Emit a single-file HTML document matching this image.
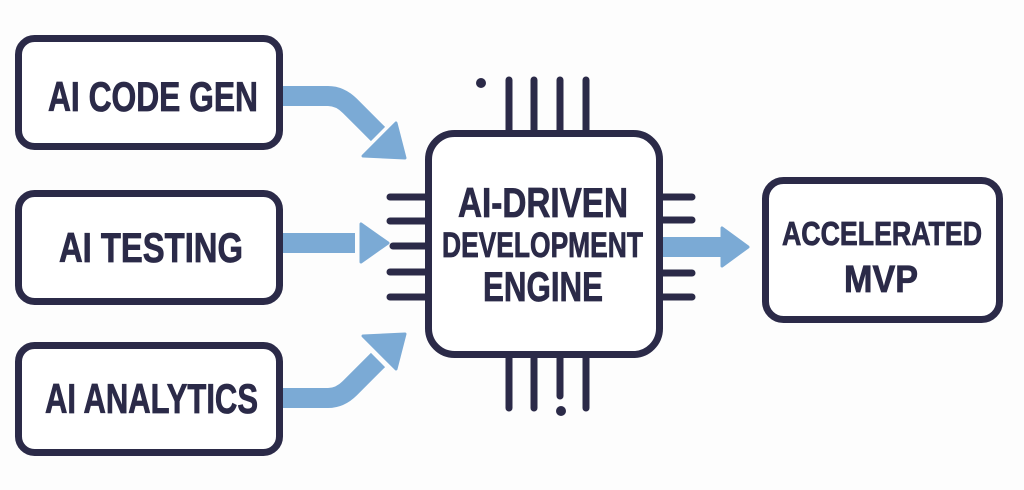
<!DOCTYPE html>
<html><head><meta charset="utf-8"><style>
html,body{margin:0;padding:0;background:#fdfdfd;}
svg{display:block}
text{font-family:"Liberation Sans",sans-serif;font-weight:bold;fill:#2b2a48;stroke:#2b2a48;stroke-width:0.8;}
</style></head><body>
<svg width="1024" height="490" viewBox="0 0 1024 490" xmlns="http://www.w3.org/2000/svg">
<g fill="none" stroke="#7baad5" stroke-width="20" stroke-linejoin="round">
  <path d="M283 96 H328 Q340 96 350 106 L378 134"/>
  <path d="M283 243 H355"/>
  <path d="M283 398 H328 Q340 398 350 388 L378 360"/>
  <path d="M663 247 H725"/>
</g>
<g fill="#7baad5" stroke="#7baad5" stroke-width="3" stroke-linejoin="round">
  <polygon points="405,158 363,156 396,123"/>
  <polygon points="388,243 361,224 361,262"/>
  <polygon points="405,334 363,336 396,369"/>
  <polygon points="748,247 722,228 722,266"/>
</g>
<g stroke="#2b2a48" stroke-width="7" stroke-linecap="round" fill="none">
  <path d="M509 80V130M534 80V130M560 80V130M586 80V130"/>
  <path d="M509 357V408M534 357V408M560 357V396M586 357V408"/>
  <path d="M390 197H425M390 221H425M393 246H425M390 272H425M390 297H425"/>
  <path d="M663 197H692M663 220H692M663 273H692M663 297H692"/>
</g>
<circle cx="481" cy="83" r="5" fill="#2b2a48"/>
<circle cx="561" cy="411" r="5" fill="#2b2a48"/>
<g fill="#fff" stroke="#2b2a48" stroke-width="7">
  <rect x="18.5" y="38.5" width="261" height="108" rx="16"/>
  <rect x="18.5" y="193.5" width="261" height="108" rx="16"/>
  <rect x="18.5" y="345.5" width="261" height="107" rx="16"/>
  <rect x="428.5" y="133.5" width="231" height="221" rx="26"/>
  <rect x="765.5" y="180.5" width="234" height="139" rx="18"/>
</g>
<text x="48" y="111" font-size="42" textLength="210" lengthAdjust="spacingAndGlyphs">AI CODE GEN</text>
<text x="59" y="262" font-size="42" textLength="184" lengthAdjust="spacingAndGlyphs">AI TESTING</text>
<text x="45" y="413" font-size="42" textLength="213" lengthAdjust="spacingAndGlyphs">AI ANALYTICS</text>
<text x="458" y="217" font-size="42" textLength="170" lengthAdjust="spacingAndGlyphs">AI-DRIVEN</text>
<text x="442" y="257" font-size="35" textLength="201" lengthAdjust="spacingAndGlyphs">DEVELOPMENT</text>
<text x="483" y="301" font-size="42" textLength="120" lengthAdjust="spacingAndGlyphs">ENGINE</text>
<text x="782" y="245" font-size="33" textLength="200" lengthAdjust="spacingAndGlyphs">ACCELERATED</text>
<text x="844" y="292" font-size="38" textLength="74" lengthAdjust="spacingAndGlyphs">MVP</text>
</svg>
</body></html>
